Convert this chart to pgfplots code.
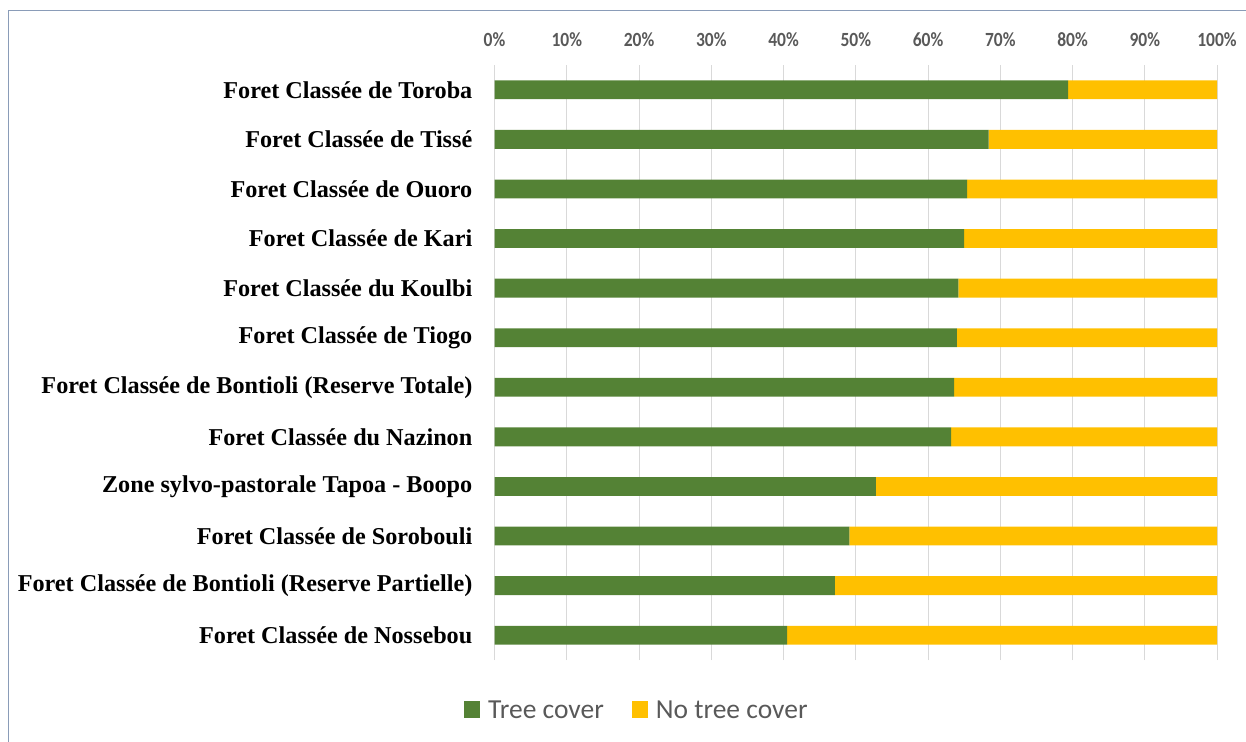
\documentclass[border=0pt]{standalone}
\usepackage{fontspec}
\usepackage{graphicx}
\usepackage{pgfplots}
\pgfplotsset{compat=1.18}
\setmainfont{Liberation Serif}
\newfontfamily\calibri{Carlito}

\definecolor{treegreen}{HTML}{548235}
\definecolor{notree}{HTML}{FFC000}
\definecolor{gridgray}{HTML}{D9D9D9}
\definecolor{tickgray}{HTML}{595959}
\definecolor{framecol}{HTML}{8A9CB8}

% percentage tick labels, set a little taller than wide
\newcommand\pct[1]{\scalebox{1}[1.15]{#1\%}}

% Share of each forest area with and without tree cover (%), bottom row first
\pgfplotstableread{
idx tree notree
0   40.5  59.5
1   47.1  52.9
2   49.1  50.9
3   52.8  47.2
4   63.2  36.8
5   63.6  36.4
6   64.0  36.0
7   64.2  35.8
8   65.0  35.0
9   65.4  34.6
10  68.4  31.6
11  79.4  20.6
}\covertable

\begin{document}
\begin{tikzpicture}[x=1bp,y=1bp]
\useasboundingbox (0,0) rectangle (1246,-742);
\draw[framecol, line width=1.8bp] (8.5,-742) -- (8.5,-10.5) -- (1246,-10.5);
\begin{axis}[
  at={(494.5bp,-660bp)}, anchor=south west,
  scale only axis, width=722.5bp, height=595bp,
  xbar stacked, bar width=0.38,
  xmin=0, xmax=100, ymin=-0.5, ymax=11.5,
  axis line style={draw=none}, tick style={draw=none},
  xmajorgrids, grid style={draw=gridgray, line width=1bp},
  xtick={0,10,...,100},
  xticklabels={\pct{0},\pct{10},\pct{20},\pct{30},\pct{40},\pct{50},\pct{60},\pct{70},\pct{80},\pct{90},\pct{100}},
  xticklabel pos=upper,
  xticklabel style={font=\calibri\bfseries\fontsize{17.5bp}{20bp}\selectfont, text=tickgray, inner sep=0pt, anchor=base, yshift=19bp},
  ytick={0,...,11},
  yticklabels={
    Foret Classée de Nossebou,
    Foret Classée de Bontioli (Reserve Partielle),
    Foret Classée de Sorobouli,
    Zone sylvo-pastorale Tapoa - Boopo,
    Foret Classée du Nazinon,
    Foret Classée de Bontioli (Reserve Totale),
    Foret Classée de Tiogo,
    Foret Classée du Koulbi,
    Foret Classée de Kari,
    Foret Classée de Ouoro,
    Foret Classée de Tissé,
    Foret Classée de Toroba},
  yticklabel style={font=\bfseries\fontsize{24.2bp}{28bp}\selectfont, anchor=east, inner sep=0pt, xshift=-22bp},
  legend style={at={(0.197,-0.084)}, anchor=center, draw=none, fill=none,
    font=\calibri\fontsize{27.5bp}{32bp}\selectfont, text=tickgray,
    /tikz/every odd column/.append style={column sep=6bp},
    /tikz/every even column/.append style={column sep=26bp}},
  legend columns=2,
  legend image code/.code={\fill[#1] (0bp,-8.5bp) rectangle (16bp,8.5bp);},
]
\addplot[fill=treegreen, draw=none] table[x=tree, y=idx] {\covertable};
\addplot[fill=notree, draw=none] table[x=notree, y=idx] {\covertable};
\legend{Tree cover, No tree cover}
\end{axis}
\end{tikzpicture}
\end{document}
